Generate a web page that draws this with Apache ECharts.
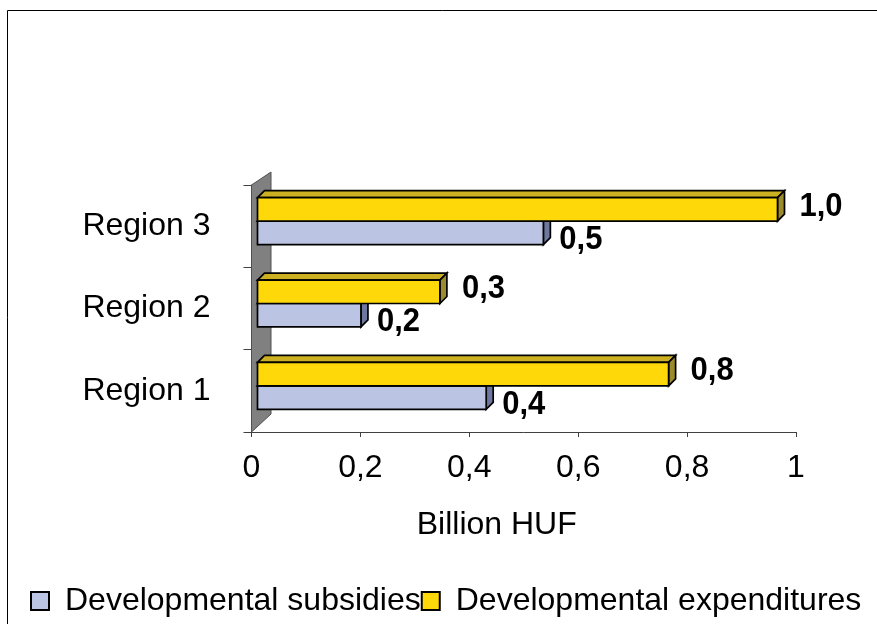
<!DOCTYPE html>
<html>
<head>
<meta charset="utf-8">
<script src="https://cdn.jsdelivr.net/npm/echarts@6/dist/echarts.min.js"></script>
<style>
  html, body { margin: 0; padding: 0; background: #ffffff; }
  #chart { width: 877px; height: 624px; }
</style>
</head>
<body>
<div id="chart"></div>
<script>
// Categories listed bottom to top on the vertical axis
const categories = ['Region 1', 'Region 2', 'Region 3'];
// Billion HUF
const subsidies = [0.42, 0.19, 0.525];
const expenditures = [0.755, 0.335, 0.955];
const seriesNames = ['Developmental subsidies', 'Developmental expenditures'];
const axisTitle = 'Billion HUF';

const FONT = '"Liberation Sans", Arial, sans-serif';

// Pseudo-3D geometry (pixels)
const DEPTH_X = 6;      // bar front face offset from the axis plane
const DEPTH_Y = -5;
const BAR_DX = 7;       // bar depth
const BAR_DY = -7;
const WALL_DX = 19.5;   // side wall depth
const WALL_TOP_DY = -13;
const WALL_BOT_DY = -18;

const styles = {
  sub: { front: '#BCC4E3', top: '#9EA8CC', side: '#6E789E', labelGap: 9, labelDy: 7, above: false },
  exp: { front: '#FFD80A', top: '#CDB021', side: '#9C8B2C', labelGap: 15, labelDy: -3, above: true }
};

function fmt(v) {
  return v.toFixed(1).replace('.', ',');
}

function barRenderer(st) {
  return function (params, api) {
    const cat = api.value(0);
    const val = api.value(1);
    const p0 = api.coord([0, cat]);
    const p1 = api.coord([val, cat]);
    const band = api.size([0, 1])[1];
    const h = band * 0.285;
    const cy = p0[1] + DEPTH_Y;
    const y0 = st.above ? cy - h : cy;
    const x0 = p0[0] + DEPTH_X;
    const x1 = p1[0] + DEPTH_X;
    const stroke = { stroke: '#000', lineWidth: 1.7, lineJoin: 'miter' };
    return {
      type: 'group',
      children: [
        {
          type: 'polygon',
          shape: { points: [[x0, y0], [x0 + BAR_DX, y0 + BAR_DY], [x1 + BAR_DX, y0 + BAR_DY], [x1, y0]] },
          style: Object.assign({ fill: st.top }, stroke)
        },
        {
          type: 'polygon',
          shape: { points: [[x1, y0], [x1 + BAR_DX, y0 + BAR_DY], [x1 + BAR_DX, y0 + h + BAR_DY], [x1, y0 + h]] },
          style: Object.assign({ fill: st.side }, stroke)
        },
        {
          type: 'rect',
          shape: { x: x0, y: y0, width: x1 - x0, height: h },
          style: Object.assign({ fill: st.front }, stroke)
        },
        {
          type: 'text',
          x: x1 + BAR_DX + st.labelGap,
          y: y0 + h / 2 + st.labelDy,
          scaleY: 1.08,
          style: {
            text: fmt(val),
            fill: '#000',
            font: 'bold 31px ' + FONT,
            align: 'left',
            verticalAlign: 'middle'
          }
        }
      ]
    };
  };
}

function wallRenderer(params, api) {
  const cs = params.coordSys;
  const x0 = cs.x;
  const yt = cs.y;
  const yb = cs.y + cs.height;
  return {
    type: 'polygon',
    shape: { points: [[x0, yt], [x0 + WALL_DX, yt + WALL_TOP_DY], [x0 + WALL_DX, yb + WALL_BOT_DY], [x0, yb]] },
    style: { fill: '#808080', stroke: '#505050', lineWidth: 1 }
  };
}

const chart = echarts.init(document.getElementById('chart'), null, { renderer: 'canvas' });

chart.setOption({
  animation: false,
  backgroundColor: '#ffffff',
  textStyle: { fontFamily: FONT },
  graphic: [{
    type: 'rect',
    shape: { x: 7.5, y: 10.5, width: 900, height: 700 },
    style: { fill: 'none', stroke: '#000', lineWidth: 1 },
    z: 100
  }],
  grid: { left: 251.5, right: 81, top: 185, bottom: 192, containLabel: false },
  xAxis: {
    type: 'value',
    min: 0,
    max: 1,
    interval: 0.2,
    name: axisTitle,
    nameLocation: 'middle',
    nameGap: 77,
    nameTextStyle: { color: '#000', fontSize: 32, fontFamily: FONT, padding: [0, 54, 0, 0] },
    axisLine: { show: true, lineStyle: { color: '#404040', width: 1 } },
    axisTick: { show: true, length: 5, lineStyle: { color: '#404040' } },
    splitLine: { show: false },
    axisLabel: {
      color: '#000', fontSize: 32, fontFamily: FONT, margin: 20,
      formatter: function (v) { return String(v).replace('.', ','); }
    }
  },
  yAxis: {
    type: 'category',
    data: categories,
    axisLine: { show: true, lineStyle: { color: '#404040', width: 1 } },
    axisTick: { show: true, length: 8, lineStyle: { color: '#404040' } },
    splitLine: { show: false },
    axisLabel: { color: '#000', fontSize: 32, fontFamily: FONT, margin: 41 }
  },
  legend: {
    data: [
      { name: seriesNames[0], itemStyle: { color: styles.sub.front, borderColor: '#000', borderWidth: 2 } },
      { name: seriesNames[1], itemStyle: { color: styles.exp.front, borderColor: '#000', borderWidth: 2 } }
    ],
    left: 25,
    top: 580,
    icon: 'rect',
    itemWidth: 18,
    itemHeight: 18,
    itemGap: 0,
    textStyle: { color: '#000', fontSize: 32, fontFamily: FONT, padding: [0, 0, 0, 11] }
  },
  series: [
    {
      type: 'custom',
      name: 'wall',
      renderItem: wallRenderer,
      data: [[0, 0]],
      encode: { x: 0, y: 1 },
      silent: true,
      z: 1
    },
    {
      type: 'custom',
      name: seriesNames[0],
      renderItem: barRenderer(styles.sub),
      itemStyle: { color: styles.sub.front },
      data: subsidies.map(function (v, i) { return [i, v]; }),
      encode: { x: 1, y: 0 },
      z: 2
    },
    {
      type: 'custom',
      name: seriesNames[1],
      renderItem: barRenderer(styles.exp),
      itemStyle: { color: styles.exp.front },
      data: expenditures.map(function (v, i) { return [i, v]; }),
      encode: { x: 1, y: 0 },
      z: 3
    }
  ]
});
</script>
</body>
</html>
